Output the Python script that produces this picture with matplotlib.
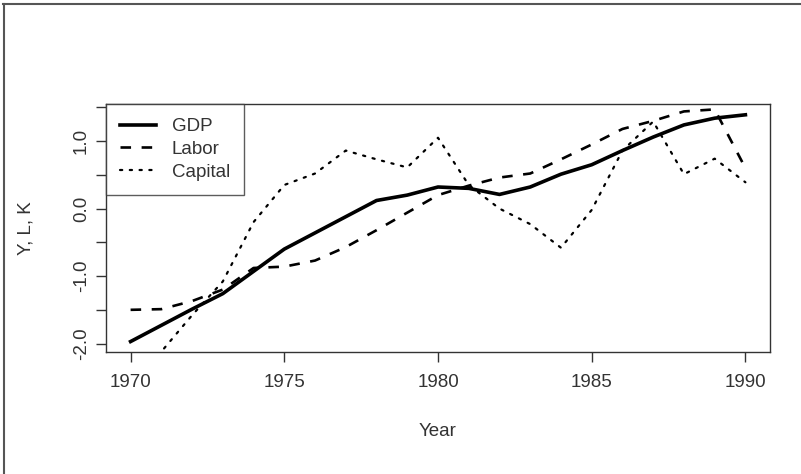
import matplotlib
matplotlib.use('Agg')
import matplotlib.pyplot as plt
from matplotlib.lines import Line2D

#==============================
#Dados
#==============================
anos = list(range(1970, 1991))
gdp = [-1.97, -1.73, -1.49, -1.26, -0.93, -0.60, -0.36, -0.12, 0.12, 0.20, 0.32,
       0.30, 0.21, 0.32, 0.51, 0.65, 0.86, 1.06, 1.24, 1.34, 1.39]
labor = [-1.50, -1.49, -1.37, -1.20, -0.88, -0.86, -0.77, -0.57, -0.32, -0.06, 0.20,
         0.34, 0.46, 0.52, 0.73, 0.95, 1.18, 1.30, 1.44, 1.47, 0.60]
capital = [-2.60, -2.12, -1.58, -1.08, -0.20, 0.35, 0.52, 0.86, 0.73, 0.61, 1.05,
           0.35, 0.00, -0.23, -0.58, -0.02, 0.86, 1.29, 0.51, 0.74, 0.39]
xticks = [1970, 1975, 1980, 1985, 1990]
yticks = [-2.0, -1.5, -1.0, -0.5, 0.0, 0.5, 1.0, 1.5]
ytick_labels = ['-2.0', '', '-1.0', '', '0.0', '', '1.0', '']

plt.rcParams['font.family'] = ['Liberation Sans', 'DejaVu Sans']
cinza = '#333333'

#==============================
#Figura
#==============================
fig = plt.figure(figsize=(8.01, 4.74), dpi=100)
ax = fig.add_axes([106/801, 1-352/474, 664/801, 248/474])

ax.plot(anos, gdp, color='black', lw=2.6, solid_joinstyle='round', label='GDP')
ax.plot(anos, labor, color='black', lw=1.9, dashes=(4, 4), label='Labor')
ax.plot(anos, capital, color='black', lw=1.6, dashes=(1, 3.4),
        dash_capstyle='round', label='Capital')

ax.set_xlim(1969.2, 1990.8)
ax.set_ylim(-2.125, 1.55)

ax.set_xticks(xticks)
ax.set_xticklabels([str(a) for a in xticks])
ax.set_yticks(yticks)
ax.set_yticklabels(ytick_labels, rotation=90, va='center')

ax.tick_params(axis='both', direction='out', length=7.5, width=1, color=cinza,
               labelcolor=cinza, labelsize=13.5)
ax.tick_params(axis='x', pad=8)
ax.tick_params(axis='y', pad=4)
for s in ax.spines.values():
    s.set_color(cinza)
    s.set_linewidth(1)

ax.set_xlabel('Year', fontsize=13.5, color=cinza, va='center')
ax.xaxis.set_label_coords(0.5, (352-432)/248)
ax.set_ylabel('Y, L, K', fontsize=13.5, color=cinza, va='center')
ax.yaxis.set_label_coords((26-106)/664, 0.5)

#==============================
#Legenda
#==============================
leg = ax.legend(loc='upper left', fontsize=13.5, frameon=True, fancybox=False,
                borderaxespad=0, handlelength=1.9, handletextpad=0.85,
                labelspacing=0.3, borderpad=0.75, labelcolor=cinza)
leg.get_frame().set_edgecolor(cinza)
leg.get_frame().set_linewidth(1)

#==============================
#Borda da imagem
#==============================
fig.add_artist(Line2D([0.004, 1], [1-3.8/474, 1-3.8/474], transform=fig.transFigure,
                      color='#555555', lw=1.5))
fig.add_artist(Line2D([3.8/801, 3.8/801], [0, 1-3.8/474], transform=fig.transFigure,
                      color='#555555', lw=1.5))

plt.savefig('out.png', dpi=100)
